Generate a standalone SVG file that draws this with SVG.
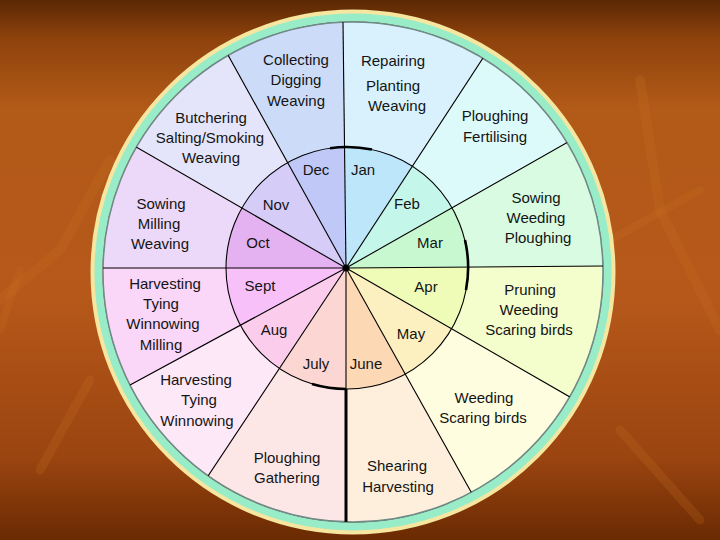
<svg xmlns="http://www.w3.org/2000/svg" width="720" height="540" viewBox="0 0 720 540">
<defs>
<linearGradient id="bg" x1="0" y1="0" x2="0" y2="1">
<stop offset="0" stop-color="#5a2804"/>
<stop offset="0.07" stop-color="#8e420c"/>
<stop offset="0.2" stop-color="#b25a18"/>
<stop offset="0.55" stop-color="#b6581a"/>
<stop offset="0.85" stop-color="#9a4410"/>
<stop offset="1" stop-color="#6a2a02"/>
</linearGradient>
<clipPath id="outerClip"><circle cx="353" cy="272" r="250"/></clipPath>
<clipPath id="innerClip"><circle cx="347" cy="268" r="121"/></clipPath>
<style>
text{font-family:"Liberation Sans",Arial,sans-serif;font-size:15px;fill:#141414;text-anchor:middle}
.spoke{stroke:#000;stroke-width:1.1;fill:none}
.ring{fill:none;stroke:#000;stroke-width:1.1}
.thick{fill:none;stroke:#000;stroke-width:2.6}
.deco{fill:none;stroke:#c97424;stroke-linecap:round;opacity:0.22}
</style>
</defs>
<rect x="0" y="0" width="720" height="540" fill="url(#bg)"/>
<g id="background-branches">
<path class="deco" stroke-width="10" d="M0 300 L60 250 L110 160"/>
<path class="deco" stroke-width="8" d="M20 270 L0 330"/>
<path class="deco" stroke-width="10" d="M640 80 L660 210 L720 330"/>
<path class="deco" stroke-width="8" d="M610 240 L700 190"/>
<path class="deco" stroke-width="9" d="M620 430 L700 520"/>
<path class="deco" stroke-width="9" d="M40 470 L90 380"/>
</g>
<g id="frame">
<circle cx="353" cy="272" r="260" fill="none" stroke="#f6e6a0" stroke-width="5"/>
<circle cx="353" cy="272" r="254.5" fill="none" stroke="#98ecc8" stroke-width="8"/>
</g>
<g id="sectors-outer" clip-path="url(#outerClip)">
<polygon id="jan-outer" points="346,268 340,-224 620,-152" fill="#d8f1fc"/>
<polygon id="feb-outer" points="346,268 620,-152 790,16" fill="#ddfafa"/>
<polygon id="mar-outer" points="346,268 790,16 860,264" fill="#d8fbe2"/>
<polygon id="apr-outer" points="346,268 860,264 794,526" fill="#f4fdcc"/>
<polygon id="may-outer" points="346,268 794,526 594,712" fill="#fefde0"/>
<polygon id="jun-outer" points="346,268 594,712 346,776" fill="#fdefdc"/>
<polygon id="jul-outer" points="346,268 346,776 74,678" fill="#fde6e6"/>
<polygon id="aug-outer" points="346,268 74,678 -86,502" fill="#fde8f8"/>
<polygon id="sep-outer" points="346,268 -86,502 -140,268" fill="#fad6f8"/>
<polygon id="oct-outer" points="346,268 -140,268 -74,26" fill="#ecd8f8"/>
<polygon id="nov-outer" points="346,268 -74,26 110,-158" fill="#e4e4fa"/>
<polygon id="dec-outer" points="346,268 110,-158 340,-224" fill="#ccdcf8"/>
</g>
<g id="sectors-inner" clip-path="url(#innerClip)">
<polygon points="346,268 340,-224 620,-152" fill="#bde6fa"/>
<polygon points="346,268 620,-152 790,16" fill="#c4f6ea"/>
<polygon points="346,268 790,16 860,264" fill="#c8f8d0"/>
<polygon points="346,268 860,264 794,526" fill="#eefcb8"/>
<polygon points="346,268 794,526 594,712" fill="#fdf0c0"/>
<polygon points="346,268 594,712 346,776" fill="#fcd8b4"/>
<polygon points="346,268 346,776 74,678" fill="#fcd6d2"/>
<polygon points="346,268 74,678 -86,502" fill="#fcccec"/>
<polygon points="346,268 -86,502 -140,268" fill="#f8c0f8"/>
<polygon points="346,268 -140,268 -74,26" fill="#e4b2f0"/>
<polygon points="346,268 -74,26 110,-158" fill="#d6ccf8"/>
<polygon points="346,268 110,-158 340,-224" fill="#c0c8f8"/>
</g>
<circle cx="353" cy="272" r="250" fill="none" stroke="#6f8a88" stroke-width="1.5"/>
<g id="connectors" clip-path="url(#outerClip)">
<line class="spoke" x1="346" y1="268" x2="340" y2="-224"/>
<line class="spoke" x1="346" y1="268" x2="620" y2="-152"/>
<line class="spoke" x1="346" y1="268" x2="790" y2="16"/>
<line class="spoke" x1="346" y1="268" x2="860" y2="264"/>
<line class="spoke" x1="346" y1="268" x2="794" y2="526"/>
<line class="spoke" x1="346" y1="268" x2="594" y2="712"/>
<line class="spoke" x1="346" y1="268" x2="346" y2="389"/>
<line x1="346" y1="389" x2="346" y2="540" stroke="#000" stroke-width="3"/>
<line class="spoke" x1="346" y1="268" x2="74" y2="678"/>
<line class="spoke" x1="346" y1="268" x2="-86" y2="502"/>
<line class="spoke" x1="346" y1="268" x2="-140" y2="268"/>
<line class="spoke" x1="346" y1="268" x2="-74" y2="26"/>
<line class="spoke" x1="346" y1="268" x2="110" y2="-158"/>
<circle class="ring" cx="347" cy="268" r="121"/>
<path class="thick" d="M 330 148.2 A 121 121 0 0 1 372 149.6"/>
<path class="thick" d="M 465 240 A 121 121 0 0 1 466 290"/>
<path class="thick" d="M 312 384 A 121 121 0 0 0 346 389"/>
<circle cx="346" cy="268" r="3.5" fill="#000"/>
</g>
<g id="jan"><text x="363" y="175">Jan</text><text x="393" y="66">Repairing</text><text x="393" y="91">Planting</text><text x="397" y="111">Weaving</text></g>
<g id="feb"><text x="407" y="209">Feb</text><text x="495" y="121">Ploughing</text><text x="495" y="142">Fertilising</text></g>
<g id="mar"><text x="430" y="248">Mar</text><text x="536" y="203">Sowing</text><text x="536" y="223">Weeding</text><text x="538" y="243">Ploughing</text></g>
<g id="apr"><text x="426" y="292">Apr</text><text x="530" y="295">Pruning</text><text x="529" y="315">Weeding</text><text x="529" y="335">Scaring birds</text></g>
<g id="may"><text x="411" y="339">May</text><text x="484" y="403">Weeding</text><text x="483" y="423">Scaring birds</text></g>
<g id="june"><text x="366" y="369">June</text><text x="397" y="471">Shearing</text><text x="398" y="492">Harvesting</text></g>
<g id="july"><text x="316" y="369">July</text><text x="287" y="463">Ploughing</text><text x="287" y="483">Gathering</text></g>
<g id="aug"><text x="274" y="335">Aug</text><text x="196" y="385">Harvesting</text><text x="199" y="405">Tying</text><text x="197" y="426">Winnowing</text></g>
<g id="sept"><text x="260" y="291">Sept</text><text x="165" y="289">Harvesting</text><text x="161" y="309">Tying</text><text x="163" y="329">Winnowing</text><text x="161" y="350">Milling</text></g>
<g id="oct"><text x="258" y="248">Oct</text><text x="161" y="209">Sowing</text><text x="159" y="229">Milling</text><text x="160" y="249">Weaving</text></g>
<g id="nov"><text x="276" y="210">Nov</text><text x="211" y="123">Butchering</text><text x="210" y="143">Salting/Smoking</text><text x="211" y="163">Weaving</text></g>
<g id="dec"><text x="316" y="175">Dec</text><text x="296" y="65">Collecting</text><text x="296" y="85">Digging</text><text x="296" y="106">Weaving</text></g>
</svg>
